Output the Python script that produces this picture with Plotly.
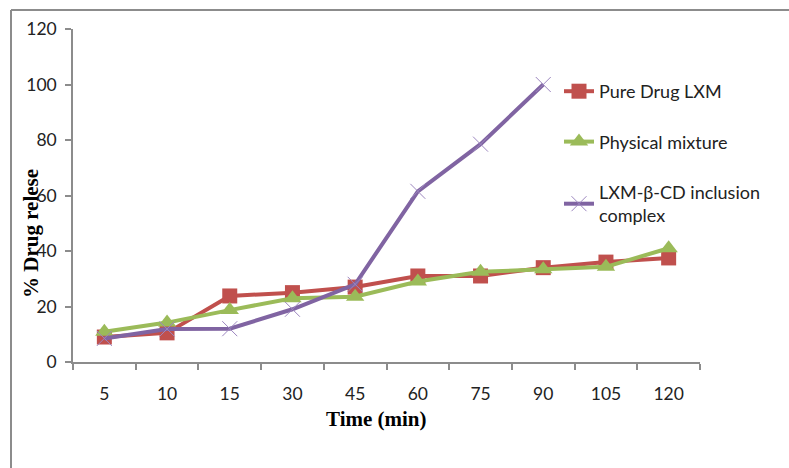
import plotly.graph_objects as go

time_labels = ["5", "10", "15", "30", "45", "60", "75", "90", "105", "120"]
pure_drug = [9.0, 10.5, 23.8, 25.0, 27.0, 31.0, 31.0, 34.0, 36.0, 37.5]
physical_mixture = [10.9, 14.2, 18.7, 23.0, 23.5, 29.0, 32.5, 33.4, 34.3, 41.0]
inclusion_complex = [8.5, 11.9, 12.0, 19.0, 28.0, 61.5, 78.5, 100.0]

W, H = 789, 468
L, R, T, B = 73, 89, 29, 106
pw, ph = W - L - R, H - T - B

def px(x):
    return (x - L) / pw

def py(y):
    return (H - B - y) / ph

font_ticks = dict(family="Lato, 'Liberation Sans', sans-serif", size=17.5, color="#222222")

fig = go.Figure()
fig.add_trace(go.Scatter(
    x=time_labels, y=pure_drug, name="Pure Drug LXM", mode="lines+markers",
    line=dict(color="#C0504D", width=4),
    marker=dict(symbol="square", size=15, color="#C0504D"),
    legendgroup="a"))
fig.add_trace(go.Scatter(
    x=time_labels, y=physical_mixture, name="Physical mixture", mode="lines+markers",
    line=dict(color="#9BBB59", width=4),
    marker=dict(symbol="triangle-up", size=16, color="#9BBB59"),
    legendgroup="b"))
fig.add_trace(go.Scatter(
    x=time_labels[:len(inclusion_complex)], y=inclusion_complex,
    name="LXM-β-CD inclusion<br>complex", mode="lines+markers",
    line=dict(color="#8064A2", width=4),
    marker=dict(symbol="x-thin-open", size=15, color="#9C86BF",
                line=dict(width=1, color="#9C86BF")),
    legendgroup="c"))

fig.update_layout(
    width=W, height=H,
    margin=dict(l=L, r=R, t=T, b=B),
    paper_bgcolor="white", plot_bgcolor="white",
    font=font_ticks,
    showlegend=True,
    legend=dict(x=px(559), y=py(73), xanchor="left", yanchor="top",
                font=dict(family="Lato, 'Liberation Sans', sans-serif", size=18, color="#222222"),
                tracegroupgap=24, bgcolor="rgba(0,0,0,0)", itemwidth=30),
    xaxis=dict(
        type="category", categoryorder="array", categoryarray=time_labels,
        range=[-0.5, len(time_labels) - 0.5],
        showline=True, linecolor="#8C8C8C", linewidth=1.5,
        ticks="outside", ticklen=6, tickcolor="#8C8C8C", tickwidth=1.5,
        tickson="boundaries", showgrid=False, zeroline=False,
        ticklabelstandoff=15, tickfont=font_ticks),
    yaxis=dict(
        range=[0, 120], dtick=20, tick0=0,
        showline=True, linecolor="#8C8C8C", linewidth=1.5,
        ticks="outside", ticklen=6, tickcolor="#8C8C8C", tickwidth=1.5,
        showgrid=False, zeroline=False,
        ticklabelstandoff=5, tickfont=font_ticks),
    annotations=[
        dict(text="<b>% Drug relese</b>", xref="paper", yref="paper",
             x=px(31), y=py(234), xanchor="center", yanchor="middle",
             textangle=-90, showarrow=False,
             font=dict(family="'Liberation Serif', 'Times New Roman', serif", size=21, color="black")),
        dict(text="<b>Time (min)</b>", xref="paper", yref="paper",
             x=px(376), y=py(419), xanchor="center", yanchor="middle",
             showarrow=False,
             font=dict(family="'Liberation Serif', 'Times New Roman', serif", size=21, color="black")),
    ],
    shapes=[
        dict(type="line", xref="paper", yref="paper",
             x0=px(11), x1=px(11), y0=py(10), y1=py(470),
             line=dict(color="#8C8C8C", width=2)),
        dict(type="line", xref="paper", yref="paper",
             x0=px(11), x1=px(790), y0=py(10), y1=py(10),
             line=dict(color="#8C8C8C", width=2)),
    ],
)

fig.write_html("out.html")
